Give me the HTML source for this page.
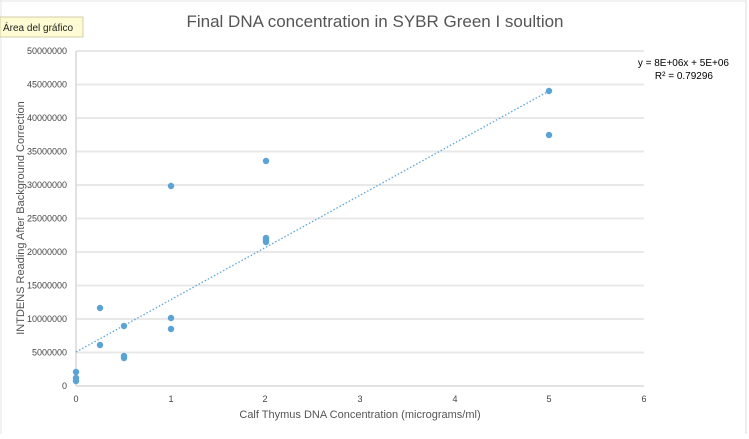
<!DOCTYPE html><html><head><style>body{margin:0;background:#fff}svg text{font-family:"Liberation Sans",sans-serif}</style></head><body>
<svg width="749" height="434" xmlns="http://www.w3.org/2000/svg">
<rect width="749" height="434" fill="#fff"/>
<line x1="746" y1="0" x2="746" y2="434" stroke="#ddd"/>
<line x1="0" y1="1" x2="746" y2="1" stroke="#e4e4e4"/>
<line x1="1" y1="0" x2="1" y2="434" stroke="#e4e4e4"/>
<g stroke="#e8e8e8" stroke-width="2">
<line x1="76" y1="51" x2="644" y2="51"/><line x1="76" y1="84.5" x2="644" y2="84.5"/><line x1="76" y1="118" x2="644" y2="118"/><line x1="76" y1="151.5" x2="644" y2="151.5"/><line x1="76" y1="185" x2="644" y2="185"/><line x1="76" y1="218.5" x2="644" y2="218.5"/><line x1="76" y1="252" x2="644" y2="252"/><line x1="76" y1="285.5" x2="644" y2="285.5"/><line x1="76" y1="319" x2="644" y2="319"/><line x1="76" y1="352.5" x2="644" y2="352.5"/>
</g>
<line x1="76" y1="386" x2="644" y2="386" stroke="#d8d8d8" stroke-width="1.5"/>
<line x1="76" y1="51" x2="76" y2="386" stroke="#d8d8d8" stroke-width="1.5"/>
<g font-size="9" fill="#444" text-anchor="end">
<text x="67" y="54">50000000</text><text x="67" y="87.5">45000000</text><text x="67" y="121">40000000</text><text x="67" y="154.5">35000000</text><text x="67" y="188">30000000</text><text x="67" y="221.5">25000000</text><text x="67" y="255">20000000</text><text x="67" y="288.5">15000000</text><text x="67" y="322">10000000</text><text x="67" y="355.5">5000000</text><text x="67" y="389">0</text>
</g>
<g font-size="9" fill="#444" text-anchor="middle">
<text x="76" y="402">0</text><text x="171" y="402">1</text><text x="265" y="402">2</text><text x="360" y="402">3</text><text x="455" y="402">4</text><text x="549" y="402">5</text><text x="644" y="402">6</text>
</g>
<text x="360" y="418" font-size="11" fill="#555" text-anchor="middle">Calf Thymus DNA Concentration (micrograms/ml)</text>
<text transform="translate(24,218) rotate(-90)" font-size="11" fill="#555" text-anchor="middle">INTDENS Reading After Background Correction</text>
<text x="375" y="27" font-size="17" fill="#555" text-anchor="middle">Final DNA concentration in SYBR Green I soultion</text>
<line x1="76" y1="352" x2="549" y2="91" stroke="#5aa5d8" stroke-width="1.3" stroke-dasharray="1.5,2"/>
<g fill="#5ba3d5">
<circle cx="76" cy="372" r="3.2"/><circle cx="76" cy="378" r="3.2"/><circle cx="76" cy="381" r="3.2"/>
<circle cx="100" cy="308" r="3.2"/><circle cx="100" cy="345" r="3.2"/>
<circle cx="124" cy="326" r="3.2"/><circle cx="124" cy="356" r="3.2"/><circle cx="124" cy="358" r="3.2"/>
<circle cx="171" cy="186" r="3.2"/><circle cx="171" cy="318" r="3.2"/><circle cx="171" cy="329" r="3.2"/>
<circle cx="266" cy="161" r="3.2"/><circle cx="266" cy="238" r="3.2"/><circle cx="266" cy="240" r="3.2"/><circle cx="266" cy="242" r="3.2"/>
<circle cx="549" cy="91" r="3.2"/><circle cx="549" cy="135" r="3.2"/>
</g>
<text x="729" y="66" font-size="10" fill="#000" text-anchor="end">y = 8E+06x + 5E+06</text>
<text x="713" y="79" font-size="10" fill="#000" text-anchor="end">R² = 0.79296</text>
<rect x="0" y="17" width="83" height="20" fill="#fdfbd3" stroke="#c8c39a" stroke-width="0.8"/>
<text x="3" y="31" font-size="10" fill="#222">Área del gráfico</text>
</svg></body></html>
